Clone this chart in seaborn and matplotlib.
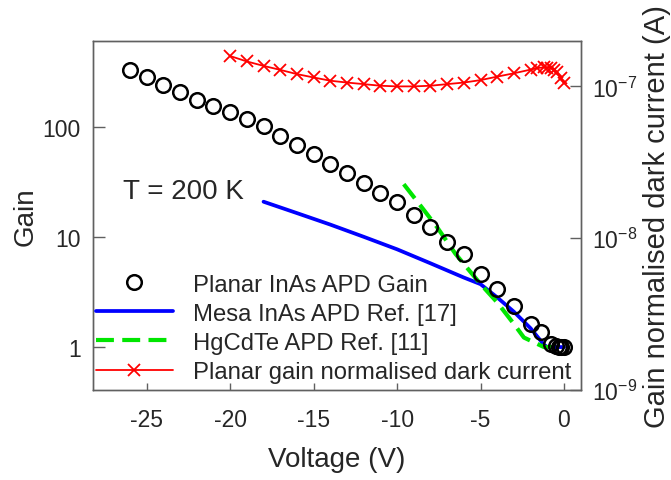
import matplotlib
matplotlib.use("Agg")
import matplotlib.pyplot as plt
import seaborn as sns
import pandas as pd
from matplotlib.ticker import FixedLocator, FixedFormatter, NullLocator

# ---------------- data ----------------
planar_v = [-26, -25, -24, -23, -22, -21, -20, -19, -18, -17, -16, -15, -14, -13,
            -12, -11, -10, -9, -8, -7, -6, -5, -4, -3, -2, -1.4, -0.8, -0.5,
            -0.3, -0.15, 0]
planar_gain = [327, 279, 239, 204, 175, 152, 134, 117, 101, 82, 68, 56, 46, 38,
               31, 25, 20.5, 15.7, 12.2, 8.9, 7.0, 4.6, 3.36, 2.37, 1.62, 1.37,
               1.06, 1.03, 1.01, 1.0, 1.0]

mesa_v = [-18, -16, -14, -12, -10, -8, -6, -5, -4, -3, -2, -1.2, -1, 0]
mesa_gain = [20.8, 16.4, 12.9, 10.0, 7.7, 5.75, 4.27, 3.72, 2.82, 2.09, 1.48,
             1.05, 1.0, 1.0]

hgcdte_v = [-9.6, -8.6, -7.6, -6.5, -5, -4, -3, -2.4, -1.2, 0]
hgcdte_gain = [30, 19.2, 12.2, 7.0, 3.73, 2.54, 1.62, 1.22, 1.0, 1.0]

dark_v = [-20, -19, -18, -17, -16, -15, -14, -13, -12, -11, -10, -9, -8, -7,
          -6, -5, -4, -3, -2, -1.6, -1.2, -1.0, -0.8, -0.6, -0.4, -0.2, 0]
dark_current = [1.585e-7, 1.46e-7, 1.365e-7, 1.285e-7, 1.205e-7, 1.145e-7,
                1.09e-7, 1.06e-7, 1.035e-7, 1.01e-7, 1.0e-7, 1.0e-7, 1.01e-7,
                1.035e-7, 1.06e-7, 1.10e-7, 1.16e-7, 1.22e-7, 1.29e-7, 1.32e-7,
                1.335e-7, 1.33e-7, 1.32e-7, 1.29e-7, 1.24e-7, 1.14e-7, 1.05e-7]

x_ticks = [-25, -20, -15, -10, -5, 0]
x_tick_labels = ["-25", "-20", "-15", "-10", "-5", "0"]
gain_ticks = [1, 10, 100]
gain_tick_labels = ["1", "10", "100"]
current_ticks = [1e-9, 1e-8, 1e-7]
current_tick_labels = [r"$10^{-9}$", r"$10^{-8}$", r"$10^{-7}$"]

labels = ["Planar InAs APD Gain", "Mesa InAs APD Ref. [17]",
          "HgCdTe APD Ref. [11]", "Planar gain normalised dark current"]

# ---------------- style ----------------
sns.set_style("white")
plt.rcParams["font.family"] = ["Liberation Sans", "DejaVu Sans"]
plt.rcParams["mathtext.fontset"] = "custom"
plt.rcParams["mathtext.rm"] = "Liberation Sans"
plt.rcParams["mathtext.it"] = "Liberation Sans:italic"
plt.rcParams["mathtext.default"] = "regular"

spine_col = "#606060"
red = "#FF0000"

fig = plt.figure(figsize=(6.71, 4.81), dpi=100)
ax = fig.add_axes([93.3 / 671, 1 - 391 / 481, (581 - 93.3) / 671, (391 - 41.7) / 481])
ax2 = ax.twinx()

df_planar = pd.DataFrame({"v": planar_v, "g": planar_gain})
df_mesa = pd.DataFrame({"v": mesa_v, "g": mesa_gain})
df_hg = pd.DataFrame({"v": hgcdte_v, "g": hgcdte_gain})
df_dark = pd.DataFrame({"v": dark_v, "i": dark_current})

ax.set_yscale("log")
ax2.set_yscale("log")

sns.lineplot(data=df_mesa, x="v", y="g", ax=ax, color="#0000FF", linewidth=2.7,
             label=labels[1], zorder=3)
sns.lineplot(data=df_hg, x="v", y="g", ax=ax, color="#00E600", linewidth=3.0,
             linestyle=(0, (4.3, 2.0)), label=labels[2], zorder=4)
sns.lineplot(data=df_planar, x="v", y="g", ax=ax, color="black", linestyle="none",
             marker="o", markersize=10.5, markerfacecolor="none",
             markeredgecolor="black", markeredgewidth=1.8, label=labels[0], zorder=5)
sns.lineplot(data=df_dark, x="v", y="i", ax=ax2, color=red, linewidth=1.3,
             marker="x", markersize=8, markeredgewidth=1.3,
             markeredgecolor=red, markerfacecolor=red, label=labels[3])

for a in (ax, ax2):
    lg = a.get_legend()
    if lg is not None:
        lg.remove()

ax.set_xlim(-28.2, 1.02)
ax.set_ylim(0.408, 600)
ax2.set_ylim(1e-9, 2.0e-7)

ax.xaxis.set_major_locator(FixedLocator(x_ticks))
ax.xaxis.set_major_formatter(FixedFormatter(x_tick_labels))
ax.yaxis.set_major_locator(FixedLocator(gain_ticks))
ax.yaxis.set_major_formatter(FixedFormatter(gain_tick_labels))
ax.yaxis.set_minor_locator(NullLocator())
ax2.yaxis.set_major_locator(FixedLocator(current_ticks))
ax2.yaxis.set_major_formatter(FixedFormatter(current_tick_labels))
ax2.yaxis.set_minor_locator(NullLocator())

ax.tick_params(axis="x", direction="in", length=4.8, width=1.0, color=spine_col,
               labelsize=16.5, pad=13, bottom=True)
ax.tick_params(axis="y", direction="in", length=8.3, width=1.0, color=spine_col,
               labelsize=16.5, pad=9, left=True)
ax2.tick_params(axis="y", direction="in", length=8.0, width=1.0, color=spine_col,
                labelsize=16.5, pad=8, right=True)

for a in (ax, ax2):
    for s in a.spines.values():
        s.set_color(spine_col)
        s.set_linewidth(1.0)
        s.set_visible(True)

ax.set_xlabel("Voltage (V)", fontsize=20, labelpad=11)
ax.set_ylabel("Gain", fontsize=20, labelpad=3)
ax2.set_ylabel("Gain normalised dark current (A)", fontsize=21, labelpad=4)

ax.text(-26.4, 26.1, "T = 200 K", fontsize=20, ha="left", va="center")

h1, l1 = ax.get_legend_handles_labels()
h2, l2 = ax2.get_legend_handles_labels()
hmap = dict(zip(l1 + l2, h1 + h2))
ax2.legend([hmap[l] for l in labels], labels, loc="lower left",
           bbox_to_anchor=(0.006, 0.02), frameon=False, fontsize=17.2,
           handlelength=3.2, handletextpad=0.85, labelspacing=0.3,
           borderpad=0, borderaxespad=0, numpoints=1)

fig.savefig("out.png", dpi=100)
